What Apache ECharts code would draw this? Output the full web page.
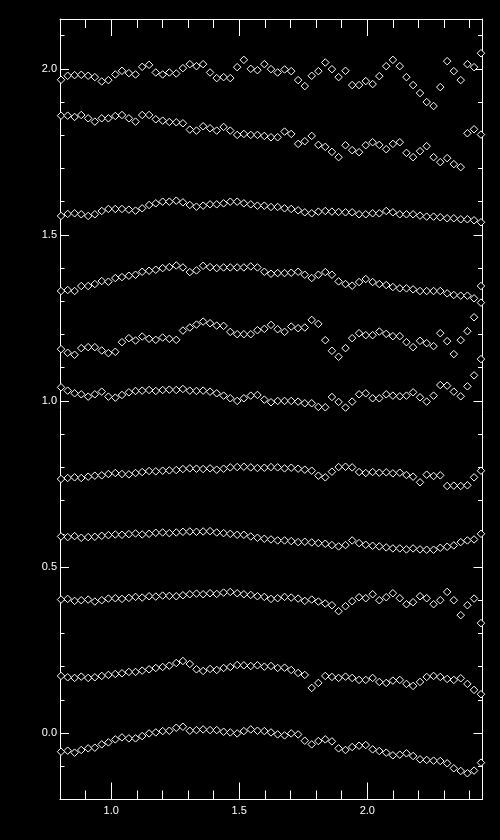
<!DOCTYPE html>
<html><head><meta charset="utf-8">
<script src="https://cdn.jsdelivr.net/npm/echarts@6/dist/echarts.min.js"></script>
<style>html,body{margin:0;padding:0;background:#000;}#c{width:500px;height:840px;}</style>
</head><body><div id="c"></div>
<script>
const xs = [0.804,0.830,0.857,0.883,0.910,0.936,0.963,0.989,1.016,1.042,
 1.069,1.095,1.121,1.148,1.174,1.201,1.227,1.254,1.280,1.307,
 1.333,1.359,1.386,1.412,1.439,1.465,1.492,1.518,1.545,1.571,
 1.598,1.624,1.650,1.677,1.703,1.730,1.756,1.783,1.809,1.836,
 1.862,1.888,1.915,1.941,1.968,1.994,2.021,2.047,2.074,2.100,
 2.127,2.153,2.179,2.206,2.232,2.259,2.285,2.312,2.338,2.365,
 2.391,2.417,2.444];

const s1 = [1.967,1.979,1.981,1.982,1.979,1.975,1.962,1.966,1.983,1.994,
 1.987,1.983,2.006,2.012,1.989,1.983,1.989,1.986,2.002,2.014,
 2.008,2.014,1.989,1.972,1.975,1.972,2.005,2.027,2.000,1.996,
 2.014,1.999,1.989,1.998,1.993,1.966,1.948,1.979,1.993,2.019,
 1.999,1.975,1.994,1.951,1.951,1.963,1.954,1.978,2.008,2.027,
 2.008,1.975,1.951,1.927,1.900,1.888,1.945,2.023,1.993,1.966,
 2.014,2.005,2.047];
const s2 = [1.859,1.859,1.855,1.861,1.851,1.841,1.851,1.851,1.858,1.861,
 1.851,1.841,1.861,1.861,1.848,1.844,1.840,1.839,1.836,1.817,
 1.814,1.827,1.821,1.814,1.825,1.814,1.801,1.804,1.801,1.801,
 1.798,1.794,1.794,1.811,1.804,1.774,1.782,1.798,1.771,1.765,
 1.750,1.734,1.770,1.755,1.749,1.770,1.779,1.771,1.758,1.774,
 1.779,1.747,1.734,1.752,1.767,1.734,1.719,1.731,1.713,1.704,
 1.806,1.818,1.802];
const s3 = [1.557,1.563,1.565,1.562,1.557,1.562,1.572,1.578,1.578,1.578,
 1.576,1.573,1.580,1.590,1.595,1.600,1.600,1.603,1.598,1.590,
 1.585,1.588,1.592,1.592,1.595,1.600,1.600,1.595,1.592,1.588,
 1.588,1.584,1.584,1.580,1.578,1.574,1.568,1.565,1.570,1.572,
 1.570,1.569,1.568,1.568,1.562,1.562,1.565,1.565,1.572,1.568,
 1.562,1.562,1.562,1.558,1.555,1.555,1.553,1.550,1.550,1.547,
 1.547,1.544,1.538];
const s4 = [1.331,1.334,1.331,1.346,1.346,1.352,1.361,1.359,1.370,1.373,
 1.377,1.380,1.389,1.392,1.395,1.400,1.403,1.408,1.402,1.388,
 1.393,1.407,1.403,1.400,1.402,1.402,1.402,1.402,1.405,1.402,
 1.389,1.383,1.385,1.385,1.386,1.389,1.380,1.370,1.380,1.388,
 1.380,1.360,1.352,1.347,1.358,1.367,1.358,1.352,1.349,1.343,
 1.339,1.339,1.336,1.331,1.331,1.331,1.331,1.324,1.319,1.317,
 1.317,1.309,1.346];
const s5 = [1.156,1.145,1.139,1.159,1.162,1.162,1.152,1.144,1.148,1.177,
 1.189,1.182,1.194,1.187,1.184,1.191,1.187,1.184,1.212,1.221,
 1.230,1.239,1.234,1.227,1.226,1.208,1.201,1.201,1.201,1.213,
 1.217,1.229,1.216,1.208,1.224,1.219,1.221,1.244,1.232,1.183,
 1.151,1.133,1.159,1.189,1.204,1.198,1.198,1.209,1.202,1.195,
 1.195,1.177,1.162,1.181,1.174,1.165,1.204,1.180,1.141,1.183,
 1.210,1.252,1.296];
const s6 = [1.041,1.031,1.023,1.020,1.013,1.020,1.028,1.013,1.010,1.018,
 1.026,1.030,1.031,1.033,1.030,1.033,1.034,1.033,1.036,1.031,
 1.030,1.031,1.028,1.023,1.016,1.008,1.000,1.008,1.016,1.018,
 1.004,0.996,1.000,1.000,1.000,0.998,0.993,0.993,0.982,0.981,
 1.012,0.997,0.980,0.998,1.020,1.023,1.008,1.008,1.020,1.016,
 1.014,1.016,1.026,1.011,0.998,1.016,1.048,1.046,1.028,1.014,
 1.044,1.077,1.126];
const s7 = [0.765,0.768,0.770,0.768,0.772,0.775,0.776,0.780,0.783,0.780,
 0.779,0.783,0.786,0.789,0.788,0.790,0.791,0.792,0.795,0.797,
 0.796,0.795,0.797,0.793,0.796,0.800,0.801,0.802,0.800,0.798,
 0.799,0.801,0.800,0.797,0.799,0.796,0.793,0.790,0.775,0.770,
 0.787,0.801,0.802,0.800,0.786,0.783,0.786,0.784,0.785,0.782,
 0.784,0.777,0.772,0.755,0.778,0.774,0.776,0.744,0.745,0.744,
 0.746,0.770,0.790];
const s8 = [0.592,0.590,0.593,0.588,0.590,0.591,0.594,0.596,0.598,0.597,
 0.599,0.601,0.598,0.600,0.603,0.604,0.602,0.604,0.606,0.607,
 0.606,0.607,0.608,0.604,0.602,0.600,0.597,0.597,0.592,0.588,
 0.585,0.583,0.580,0.580,0.578,0.575,0.576,0.574,0.572,0.570,
 0.566,0.562,0.566,0.580,0.572,0.567,0.564,0.562,0.559,0.556,
 0.556,0.553,0.556,0.553,0.552,0.552,0.558,0.561,0.565,0.575,
 0.580,0.583,0.600];
const s9 = [0.402,0.404,0.398,0.400,0.402,0.396,0.400,0.405,0.406,0.404,
 0.407,0.410,0.408,0.412,0.411,0.414,0.413,0.412,0.415,0.418,
 0.420,0.418,0.421,0.419,0.423,0.425,0.421,0.418,0.416,0.412,
 0.410,0.404,0.406,0.410,0.408,0.405,0.398,0.402,0.396,0.390,
 0.385,0.367,0.382,0.397,0.409,0.406,0.418,0.400,0.409,0.421,
 0.406,0.388,0.394,0.412,0.406,0.388,0.400,0.425,0.400,0.355,
 0.385,0.405,0.331];
const s10 = [0.172,0.168,0.166,0.170,0.166,0.168,0.172,0.175,0.178,0.180,
 0.184,0.184,0.188,0.192,0.196,0.199,0.203,0.211,0.217,0.208,
 0.192,0.187,0.193,0.190,0.196,0.199,0.205,0.204,0.202,0.204,
 0.200,0.202,0.196,0.197,0.190,0.181,0.175,0.136,0.151,0.172,
 0.169,0.166,0.170,0.166,0.160,0.160,0.166,0.154,0.151,0.158,
 0.160,0.148,0.142,0.154,0.169,0.172,0.169,0.163,0.160,0.165,
 0.148,0.130,0.117];
const s11 = [-0.056,-0.053,-0.059,-0.051,-0.046,-0.044,-0.034,-0.028,-0.019,-0.013,
 -0.016,-0.016,-0.009,-0.001,0.002,0.006,0.007,0.016,0.019,0.007,
 0.009,0.011,0.009,0.009,0.004,0.002,-0.001,0.006,0.011,0.007,
 0.006,0.002,-0.004,-0.007,-0.001,-0.004,-0.023,-0.034,-0.024,-0.019,
 -0.025,-0.046,-0.051,-0.042,-0.038,-0.036,-0.049,-0.054,-0.059,-0.067,
 -0.065,-0.061,-0.069,-0.079,-0.081,-0.083,-0.084,-0.091,-0.106,-0.114,
 -0.121,-0.113,-0.089];

const xMajorTicks = [1.0, 1.5, 2.0];
const xMinorTicks = [0.9,1.1,1.2,1.3,1.4,1.6,1.7,1.8,1.9,2.1,2.2,2.3,2.4];
const yMajorTicks = [0.0, 0.5, 1.0, 1.5, 2.0];
const yMinorTicks = [-0.1,0.1,0.2,0.3,0.4,0.6,0.7,0.8,0.9,1.1,1.2,1.3,1.4,1.6,1.7,1.8,1.9,2.1];

const xMin = 0.8, xMax = 2.45, yMin = -0.2, yMax = 2.15;
const allSeries = [s1,s2,s3,s4,s5,s6,s7,s8,s9,s10,s11];

function axis(pos, min, max, ticks, len, showLabels, showLine, margin) {
  return {
    type: 'value', position: pos, min: min, max: max,
    axisLine: {show: showLine, onZero: false, lineStyle: {color: '#fff', width: 1}},
    axisTick: {show: true, inside: true, length: len, customValues: ticks,
               lineStyle: {color: '#fff', width: 1}},
    axisLabel: {show: showLabels, customValues: ticks, inside: false,
                formatter: function (v) { return Number(v).toFixed(1); },
                color: '#fff', fontSize: 11, fontFamily: 'Liberation Sans', margin: margin},
    splitLine: {show: false}, minorTick: {show: false}, minorSplitLine: {show: false}
  };
}

const chart = echarts.init(document.getElementById('c'), null, {renderer: 'canvas'});
chart.setOption({
  backgroundColor: '#000',
  animation: false,
  grid: {left: 60, right: 17.5, top: 19, bottom: 40.5, containLabel: false},
  xAxis: [
    axis('bottom', xMin, xMax, xMajorTicks, 17, true, true, 6),
    axis('bottom', xMin, xMax, xMinorTicks, 9, false, false, 6),
    axis('top', xMin, xMax, xMajorTicks, 17, false, true, 6),
    axis('top', xMin, xMax, xMinorTicks, 9, false, false, 6)
  ],
  yAxis: [
    axis('left', yMin, yMax, yMajorTicks, 9, true, true, 3),
    axis('left', yMin, yMax, yMinorTicks, 4.5, false, false, 3),
    axis('right', yMin, yMax, yMajorTicks, 9, false, true, 3),
    axis('right', yMin, yMax, yMinorTicks, 4.5, false, false, 3)
  ],
  series: allSeries.map(function (s) {
    return {
      type: 'scatter', xAxisIndex: 0, yAxisIndex: 0,
      symbol: 'diamond', symbolSize: 7.5, silent: true,
      itemStyle: {color: '#000', borderColor: '#fff', borderWidth: 1, opacity: 1},
      data: xs.map(function (x, i) { return [x, s[i]]; })
    };
  })
});
</script></body></html>
